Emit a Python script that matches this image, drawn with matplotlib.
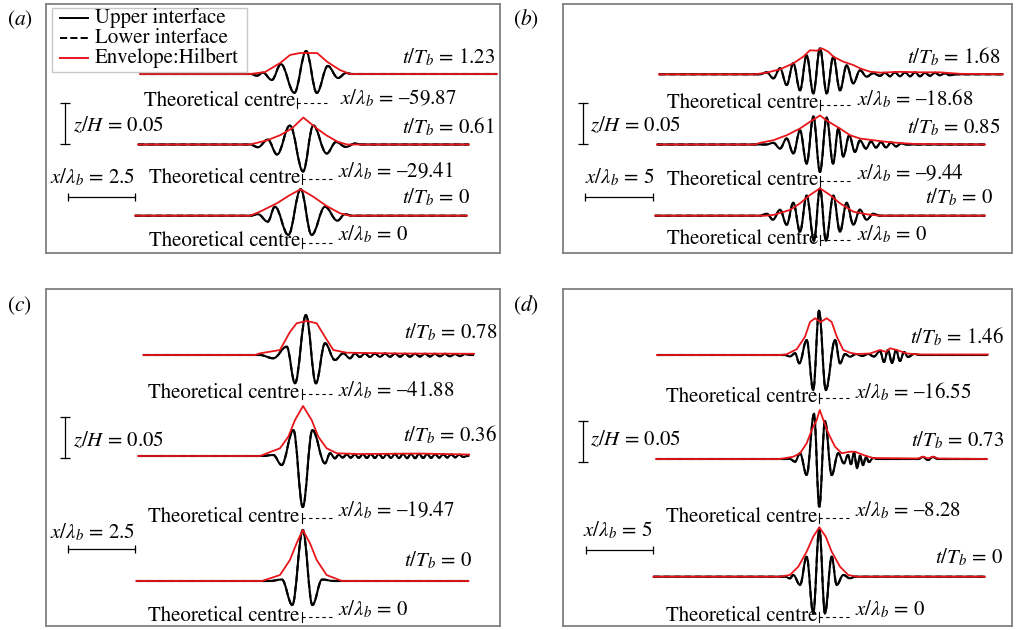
import matplotlib
matplotlib.use("Agg")
import matplotlib.pyplot as plt
from matplotlib.path import Path
from matplotlib.patches import PathPatch, Rectangle

plt.rcParams["font.family"] = ["STIXGeneral", "Liberation Serif", "DejaVu Serif"]
plt.rcParams["mathtext.fontset"] = "stix"

W, H = 1025, 630
RED = "#e8161b"
FS = 15
SZ = 820.0  # px per unit z/H

# ---- data: x in lambda_b (relative to theoretical centre), z in z/H ----
# panel (a)
a_top_x = [-1.75, -1.49, -1.27, -0.94, -0.60, -0.10, 0.34, 0.74, 1.15, 1.53, 1.83, 2.05]
a_top_z = [0, -0.002, 0.0016, -0.0073, 0.012, -0.023, 0.028, -0.023, 0.0098, -0.0049, 0.0012, 0]
a_top_env_x = [-5.86, -1.75, -1.19, -0.63, -0.26, 0.11, 0.75, 1.12, 1.60, 1.98, 7.46]
a_top_env_z = [0, 0, 0.0024, 0.0134, 0.0232, 0.0256, 0.0256, 0.015, 0.0049, 0, 0]
a_mid_x = [-1.94, -1.64, -1.28, -0.93, -0.45, 0.04, 0.42, 0.92, 1.27, 1.64, 1.98, 2.24]
a_mid_z = [0, -0.0033, 0.0061, -0.0122, 0.0232, -0.0329, 0.0232, -0.011, 0.003, -0.003, 0.0012, 0]
a_mid_env_x = [-6.12, -1.94, -1.32, -0.82, -0.38, 0.05, 0.55, 0.92, 1.34, 1.68, 6.23]
a_mid_env_z = [0, 0, 0.0049, 0.0113, 0.0195, 0.0329, 0.0195, 0.011, 0.0032, 0, 0]
a_bot_x = [-1.94, -1.64, -1.28, -1.01, -0.51, -0.05, 0.36, 0.86, 1.32, 1.60, 1.87]
a_bot_z = [0, 0.0018, -0.0073, 0.011, -0.0235, 0.0322, -0.0235, 0.011, -0.0061, 0.0018, 0]
a_bot_env_x = [-6.23, -1.94, -1.57, -0.94, -0.45, -0.05, 0.42, 0.92, 1.42, 1.79, 6.16]
a_bot_env_z = [0, 0, 0.0049, 0.0151, 0.0252, 0.0322, 0.0232, 0.0118, 0.0029, 0, 0]

# panel (b)
b_top_x = [-4.41, -3.92, -3.43, -2.94, -2.45, -1.96, -1.47, -0.98, -0.49, 0,
           0.49, 0.98, 1.47, 1.96, 2.45, 2.94, 3.43, 3.90, 4.41, 4.78,
           5.15, 5.51, 5.88, 6.25, 6.62, 6.99, 7.35, 7.72, 8.09, 8.46,
           8.82, 9.19, 9.56, 10.0]
b_top_z = [0, 0.0024, -0.0049, 0.0073, -0.013, 0.0134, -0.0195, 0.0232, -0.0232, 0.0317,
           -0.0232, 0.0215, -0.0195, 0.011, -0.011, 0.0049, -0.0029, 0.0012, -0.0018, 0.0018,
           -0.0024, 0.0024, -0.0024, 0.0024, -0.0024, 0.0024, -0.0024, 0.0018, -0.0018, 0.0018,
           -0.0012, 0.0012, -0.0012, 0]
b_top_env_x = [-11.84, -4.78, -3.92, -2.94, -1.96, -1.23, -0.74, -0.24, 0.13, 0.61, 0.98,
               1.71, 2.45, 2.94, 3.68, 4.41, 5.88, 7.35, 8.82, 10.29, 13.46]
b_top_env_z = [0, 0, 0.002, 0.0061, 0.0134, 0.0215, 0.0293, 0.0288, 0.0317, 0.0276, 0.0215,
               0.0154, 0.0113, 0.0073, 0.0032, 0.002, 0.003, 0.0024, 0.0024, 0.0006, 0]
b_mid_x = [-3.97, -3.43, -2.94, -2.45, -1.96, -1.47, -0.98, -0.49, 0, 0.49,
           0.96, 1.35, 1.71, 2.15, 2.57, 2.94, 3.38, 3.75, 4.12, 4.49,
           4.85, 5.22, 5.59, 5.96, 6.32]
b_mid_z = [0, 0.002, -0.0049, 0.0073, -0.011, 0.0171, -0.0232, 0.0341, -0.0334, 0.033,
           -0.0232, 0.0195, -0.0146, 0.011, -0.009, 0.0049, -0.0049, 0.0037, -0.0037, 0.003,
           -0.0037, 0.0024, -0.0024, 0.0012, 0]
b_mid_env_x = [-11.99, -4.78, -4.41, -3.43, -2.45, -1.47, -0.74, 0, 0.49, 1.47, 2.21,
               2.94, 3.92, 4.90, 5.88, 6.99, 12.13]
b_mid_env_z = [0, 0, 0.002, 0.0052, 0.0113, 0.0195, 0.0277, 0.0354, 0.0293, 0.0195, 0.0113,
               0.0073, 0.0052, 0.0032, 0.0018, 0.0006, 0]
b_bot_x = [-4.41, -3.90, -3.46, -2.94, -2.45, -1.96, -1.47, -0.98, -0.44, 0,
           0.44, 0.98, 1.47, 1.96, 2.45, 2.94, 3.43, 3.92, 4.41]
b_bot_z = [0, 0.0024, -0.0049, 0.0073, -0.011, 0.0159, -0.0195, 0.0244, -0.0305, 0.0334,
           -0.0305, 0.0244, -0.0195, 0.0159, -0.011, 0.0073, -0.0049, 0.0024, 0]
b_bot_env_x = [-12.13, -4.04, -3.43, -2.21, -1.47, -0.74, 0, 0.74, 1.47, 2.45, 3.43, 4.41, 12.13]
b_bot_env_z = [0, 0, 0.0009, 0.007, 0.0151, 0.0252, 0.0334, 0.0252, 0.0151, 0.0049, 0.0017, 0, 0]

# panel (c)
c_top_x = [-1.56, -1.06, -0.56, -0.25, 0.16, 0.53, 0.87, 1.24, 1.55, 1.80,
           1.99, 2.17, 2.36, 2.55, 2.73, 2.92, 3.11, 3.29, 3.48, 3.67,
           3.85, 4.04, 4.23, 4.41, 4.60, 4.79, 4.97, 5.16, 5.35, 5.53,
           5.72, 5.91, 6.09, 6.28]
c_top_z = [0, -0.004, 0.0101, -0.0345, 0.0488, -0.0345, 0.0143, -0.0061, 0.0021, -0.004,
           0.0018, -0.0024, 0.0018, -0.0024, 0.0018, -0.0022, 0.0018, -0.0022, 0.0016, -0.002,
           0.0016, -0.002, 0.0015, -0.0018, 0.0015, -0.0018, 0.0014, -0.0016, 0.0014, -0.0016,
           0.0012, -0.0014, 0.0012, 0]
c_top_env_x = [-5.91, -1.74, -1.56, -0.81, -0.44, -0.19, 0.19, 0.56, 0.87, 1.18, 1.68, 3.66, 6.43]
c_top_env_z = [0, 0, 0.002, 0.0061, 0.028, 0.0387, 0.0415, 0.0387, 0.022, 0.0061, 0.0028, 0.0018, 0.0015]
c_mid_x = [-1.48, -1.06, -0.75, -0.31, 0.04, 0.40, 0.87, 1.06, 1.24,
           1.38, 1.53, 1.68, 1.83, 1.98, 2.13, 2.28, 2.43, 2.58, 2.73, 2.88,
           3.03, 3.18, 3.33, 3.48, 3.63, 3.78, 3.93, 4.08, 4.23, 4.38,
           4.53, 4.68, 4.83, 4.98, 5.13, 5.28, 5.43, 5.58, 5.73, 5.88,
           6.03, 6.18]
c_mid_z = [0, 0.0012, -0.011, 0.0317, -0.0622, 0.0317, -0.0089, 0.0033, -0.0028,
           0.0015, -0.0018, 0.0018, -0.002, 0.002, -0.0022, 0.0022, -0.0024, 0.0024, -0.0024, 0.0024,
           -0.0024, 0.0024, -0.0024, 0.0026, -0.0026, 0.0026, -0.0026, 0.0026, -0.0026, 0.0026,
           -0.0024, 0.0024, -0.0022, 0.0022, -0.002, 0.002, -0.0018, 0.0018, -0.0016, 0.0016,
           -0.0012, 0]
c_mid_env_x = [-6.10, -1.55, -1.30, -0.81, -0.50, -0.25, 0.05, 0.37, 0.62, 0.93, 1.31, 2.18, 4.41, 6.25]
c_mid_env_z = [0, 0, 0.0033, 0.0094, 0.0235, 0.0439, 0.061, 0.0439, 0.0235, 0.0094, 0.0033, 0.0024, 0.003, 0.0018]
c_bot_x = [-1.18, -0.74, -0.35, 0.04, 0.40, 0.76, 1.21]
c_bot_z = [0, 0.0018, -0.0293, 0.0622, -0.0293, 0.0018, 0]
c_bot_env_x = [-6.17, -1.48, -0.81, -0.44, -0.19, 0.04, 0.31, 0.56, 0.93, 1.50, 6.22]
c_bot_env_z = [0, 0, 0.0073, 0.0256, 0.046, 0.0622, 0.046, 0.0256, 0.0073, 0, 0]

# panel (d)
d_top_x = [-2.55, -2.18, -1.80, -1.48, -0.94, -0.45, -0.02, 0.48, 1.17, 1.54,
           1.91, 2.28, 2.72, 3.17, 3.62, 4.06, 4.51, 4.80, 5.10, 5.40,
           5.69, 5.99, 6.29, 6.58, 7.03, 7.48]
d_top_z = [0, -0.0018, 0.0021, -0.0101, 0.0183, -0.0427, 0.0537, -0.0427, 0.0183, -0.0101,
           0.0012, -0.0021, 0.0012, -0.0012, 0.0012, -0.0018, 0.0049, -0.0085, 0.0061, -0.0098,
           0.0061, -0.0073, 0.0037, -0.0024, 0.0012, 0]
d_top_env_x = [-12.05, -2.92, -2.42, -1.68, -1.06, -0.69, -0.32, 0.10, 0.55, 0.92, 1.30,
               1.78, 2.28, 2.78, 3.76, 4.51, 4.95, 5.25, 5.75, 6.49, 7.48, 12.52]
d_top_env_z = [0, 0, 0.0009, 0.007, 0.0223, 0.0402, 0.0448, 0.0402, 0.0448, 0.0402, 0.0223,
               0.0061, 0.0028, 0.0012, 0.0018, 0.0061, 0.0037, 0.0082, 0.0061, 0.0018, 0.0006, 0.0006]
d_mid_x = [-2.18, -1.80, -1.43, -0.94, -0.39, 0, 0.42, 0.92, 1.41, 1.83,
           2.13, 2.35, 2.58, 2.80, 3.02, 3.24, 3.47, 3.69, 3.99, 4.36,
           7.33, 7.70, 8.07, 8.44, 8.81]
d_mid_z = [0, -0.0033, 0.007, -0.0195, 0.0549, -0.0585, 0.0463, -0.0195, 0.007, -0.0052,
           0.0049, -0.0061, 0.0073, -0.011, 0.0037, -0.0073, 0.0024, -0.0037, 0.0012, 0,
           0, 0.0024, -0.0012, 0.0024, 0]
d_mid_env_x = [-12.12, -2.92, -1.93, -1.43, -0.94, -0.56, -0.19, 0.03, 0.30, 0.67, 1.17,
               1.66, 2.28, 2.65, 3.27, 3.99, 7.33, 7.70, 8.07, 8.44, 8.81, 12.45]
d_mid_env_z = [0, 0, 0.0028, 0.007, 0.0191, 0.0354, 0.0476, 0.0598, 0.0476, 0.0313, 0.015,
               0.007, 0.0089, 0.0089, 0.0049, 0.0012, 0.0006, 0.003, 0.0006, 0.003, 0.0006, 0]
d_bot_x = [-2.55, -2.18, -1.93, -1.43, -0.94, -0.45, 0, 0.42, 0.92, 1.29, 1.78, 2.28, 2.65]
d_bot_z = [0, -0.002, 0.0021, -0.0101, 0.0244, -0.0446, 0.059, -0.0446, 0.0244, -0.0101, 0.0021, -0.002, 0]
d_bot_env_x = [-12.32, -2.92, -2.18, -1.56, -0.94, -0.45, 0, 0.48, 0.92, 1.54, 2.15, 2.78, 12.30]
d_bot_env_z = [0, 0, 0.0021, 0.0122, 0.0305, 0.0488, 0.0602, 0.0488, 0.0305, 0.0122, 0.0021, 0, 0]

# labels
a_times = ["1.23", "0.61", "0"]
a_shift = ["\u201359.87", "\u201329.41", "0"]
b_times = ["1.68", "0.85", "0"]
b_shift = ["\u201318.68", "\u20139.44", "0"]
c_times = ["0.78", "0.36", "0"]
c_shift = ["\u201341.88", "\u201319.47", "0"]
d_times = ["1.46", "0.73", "0"]
d_shift = ["\u201316.55", "\u20138.28", "0"]

panels = {
    "a": dict(traces=[(a_top_x, a_top_z, a_top_env_x, a_top_env_z),
                      (a_mid_x, a_mid_z, a_mid_env_x, a_mid_env_z),
                      (a_bot_x, a_bot_z, a_bot_env_x, a_bot_env_z)],
              times=a_times, shift=a_shift, xbar=2.5,
              frame=(46, 4, 500, 253), sx=26.8, cx=[297, 302, 302], base=[74, 144.5, 215.7],
              tpos=[(495, 63), (494, 133), (470, 203)], theo=[106.5, 183, 246.5],
              xpos=[(340, 104), (338, 177.5), (338, 240)],
              zbar=(65, 144), zlab=(73, 131), xbarpos=(68, 197.3), xlab=(50, 183), lab=(7, 25)),
    "b": dict(traces=[(b_top_x, b_top_z, b_top_env_x, b_top_env_z),
                      (b_mid_x, b_mid_z, b_mid_env_x, b_mid_env_z),
                      (b_bot_x, b_bot_z, b_bot_env_x, b_bot_env_z)],
              times=b_times, shift=b_shift, xbar=5,
              frame=(563, 4, 1012, 253), sx=13.6, cx=[820, 820, 820], base=[74.3, 144.5, 215.7],
              tpos=[(1000, 63), (1000, 133), (993, 203)], theo=[108.5, 185, 243.5],
              xpos=[(857, 105), (857, 179), (857, 240)],
              zbar=(583, 144), zlab=(590, 131), xbarpos=(585, 196.7), xlab=(585, 183), lab=(513, 25)),
    "c": dict(traces=[(c_top_x, c_top_z, c_top_env_x, c_top_env_z),
                      (c_mid_x, c_mid_z, c_mid_env_x, c_mid_env_z),
                      (c_bot_x, c_bot_z, c_bot_env_x, c_bot_env_z)],
              times=c_times, shift=c_shift, xbar=2.5,
              frame=(46, 289, 500, 626), sx=26.8, cx=[301.7, 301.7, 301.7], base=[355, 456, 581],
              tpos=[(497, 338), (497, 441.7), (471.7, 566.7)], theo=[398, 521.7, 621],
              xpos=[(338, 396), (338, 516.7), (338, 615)],
              zbar=(65, 458), zlab=(73, 446), xbarpos=(68, 549.3), xlab=(50, 538), lab=(7, 311)),
    "d": dict(traces=[(d_top_x, d_top_z, d_top_env_x, d_top_env_z),
                      (d_mid_x, d_mid_z, d_mid_env_x, d_mid_env_z),
                      (d_bot_x, d_bot_z, d_bot_env_x, d_bot_env_z)],
              times=d_times, shift=d_shift, xbar=5,
              frame=(563, 289, 1012, 626), sx=13.47, cx=[819.3, 819.3, 819.3], base=[355, 459, 576.7],
              tpos=[(1004, 343), (1004, 446.7), (1003, 563)], theo=[401.7, 521.7, 621],
              xpos=[(855, 398.3), (855, 516.7), (855, 615)],
              zbar=(583.3, 462), zlab=(590, 445), xbarpos=(586, 550), xlab=(583, 536.7), lab=(513, 311)),
}


def wave_path(xs, zs, x0, x1, ox, oz, k=0.37):
    # smooth curve through the extrema, flat tangent at each one
    verts = [(x0 + ox, oz), (xs[0] + ox, zs[0] + oz)]
    codes = [Path.MOVETO, Path.LINETO]
    for i in range(len(xs) - 1):
        d = xs[i + 1] - xs[i]
        verts += [(xs[i] + k * d + ox, zs[i] + oz),
                  (xs[i + 1] - k * d + ox, zs[i + 1] + oz),
                  (xs[i + 1] + ox, zs[i + 1] + oz)]
        codes += [Path.CURVE4] * 3
    verts.append((x1 + ox, oz))
    codes.append(Path.LINETO)
    return Path(verts, codes)


fig = plt.figure(figsize=(W / 100, H / 100), dpi=100)

for key, p in panels.items():
    l, t, r, b = p["frame"]
    sx = p["sx"]
    cref, bref = p["cx"][2], p["base"][2]
    ax = fig.add_axes([l / W, 1 - b / H, (r - l) / W, (b - t) / H])
    ax.set_xlim((l - cref) / sx, (r - cref) / sx)
    ax.set_ylim((bref - b) / SZ, (bref - t) / SZ)
    ax.set_xticks([])
    ax.set_yticks([])
    for s in ax.spines.values():
        s.set_color("#808080")
        s.set_linewidth(1.3)

    for i, (xs, zs, ex, ez) in enumerate(p["traces"]):
        ox = (p["cx"][i] - cref) / sx
        oz = (bref - p["base"][i]) / SZ
        pth = wave_path(xs, zs, ex[0], ex[-1], ox, oz)
        ax.add_patch(PathPatch(pth, fill=False, ec="black", lw=1.5, ls=(0, (3, 2)), zorder=2))
        ax.add_patch(PathPatch(pth, fill=False, ec="black", lw=1.5, zorder=3))
        ax.plot([x + ox for x in ex], [z + oz for z in ez], color=RED, lw=1.3, zorder=4)

    # scale bars in data units
    zx, zy = p["zbar"]
    zx_d, zy_d = (zx - cref) / sx, (bref - zy) / SZ
    ax.plot([zx_d, zx_d], [zy_d, zy_d + 0.05], color="black", lw=0.9)
    ax.plot([zx_d, zx_d], [zy_d, zy_d + 0.05], ls="none", marker="_", ms=7, mew=0.9, color="black")
    bx, by = p["xbarpos"]
    bx_d, by_d = (bx - cref) / sx, (bref - by) / SZ
    ax.plot([bx_d, bx_d + p["xbar"]], [by_d, by_d], color="black", lw=0.9)
    ax.plot([bx_d, bx_d + p["xbar"]], [by_d, by_d], ls="none", marker="|", ms=6, mew=0.9, color="black")

# overlay in pixel units for annotations
ov = fig.add_axes([0, 0, 1, 1], facecolor="none")
ov.set_xlim(0, W)
ov.set_ylim(H, 0)
ov.axis("off")

for key, p in panels.items():
    ov.text(p["lab"][0], p["lab"][1], f"(${key}$)", fontsize=15.5, va="baseline", ha="left")
    for i in range(3):
        tx, ty = p["tpos"][i]
        ov.text(tx, ty, f"$t/T_b$ = {p['times'][i]}", fontsize=FS, ha="right", va="baseline")
        cx = p["cx"][i]
        yb = p["theo"][i]
        ov.text(cx - 2, yb, "Theoretical centre", fontsize=FS, ha="right", va="baseline")
        ov.plot([cx, cx], [yb - 9, yb + 1], color="black", lw=0.8)
        ov.plot([cx, cx + 30], [yb - 4, yb - 4], color="black", lw=0.8, ls=(0, (3, 3)))
        xx, xy = p["xpos"][i]
        ov.text(xx, xy, f"$x/\\lambda_b$ = {p['shift'][i]}", fontsize=FS, ha="left", va="baseline")
    ov.text(p["zlab"][0], p["zlab"][1], "$z/H$ = 0.05", fontsize=FS, ha="left", va="baseline")
    xb = "2.5" if p["xbar"] == 2.5 else "5"
    ov.text(p["xlab"][0], p["xlab"][1], f"$x/\\lambda_b$ = {xb}", fontsize=FS, ha="left", va="baseline")

# legend of panel (a)
ov.add_patch(Rectangle((52, 8), 195, 64, fill=True, fc="white", ec="#c8c8c8", lw=1.0, zorder=5))
leg_rows = [("Upper interface", "black", "-"), ("Lower interface", "black", "--"),
            ("Envelope:Hilbert", RED, "-")]
for j, (txt, col, ls) in enumerate(leg_rows):
    y = 18 + 20 * j
    ov.plot([60, 88], [y, y], color=col, ls=ls, lw=1.4, zorder=6)
    ov.text(95, y, txt, fontsize=FS, ha="left", va="center", zorder=6)

fig.savefig("out.png", dpi=100)
